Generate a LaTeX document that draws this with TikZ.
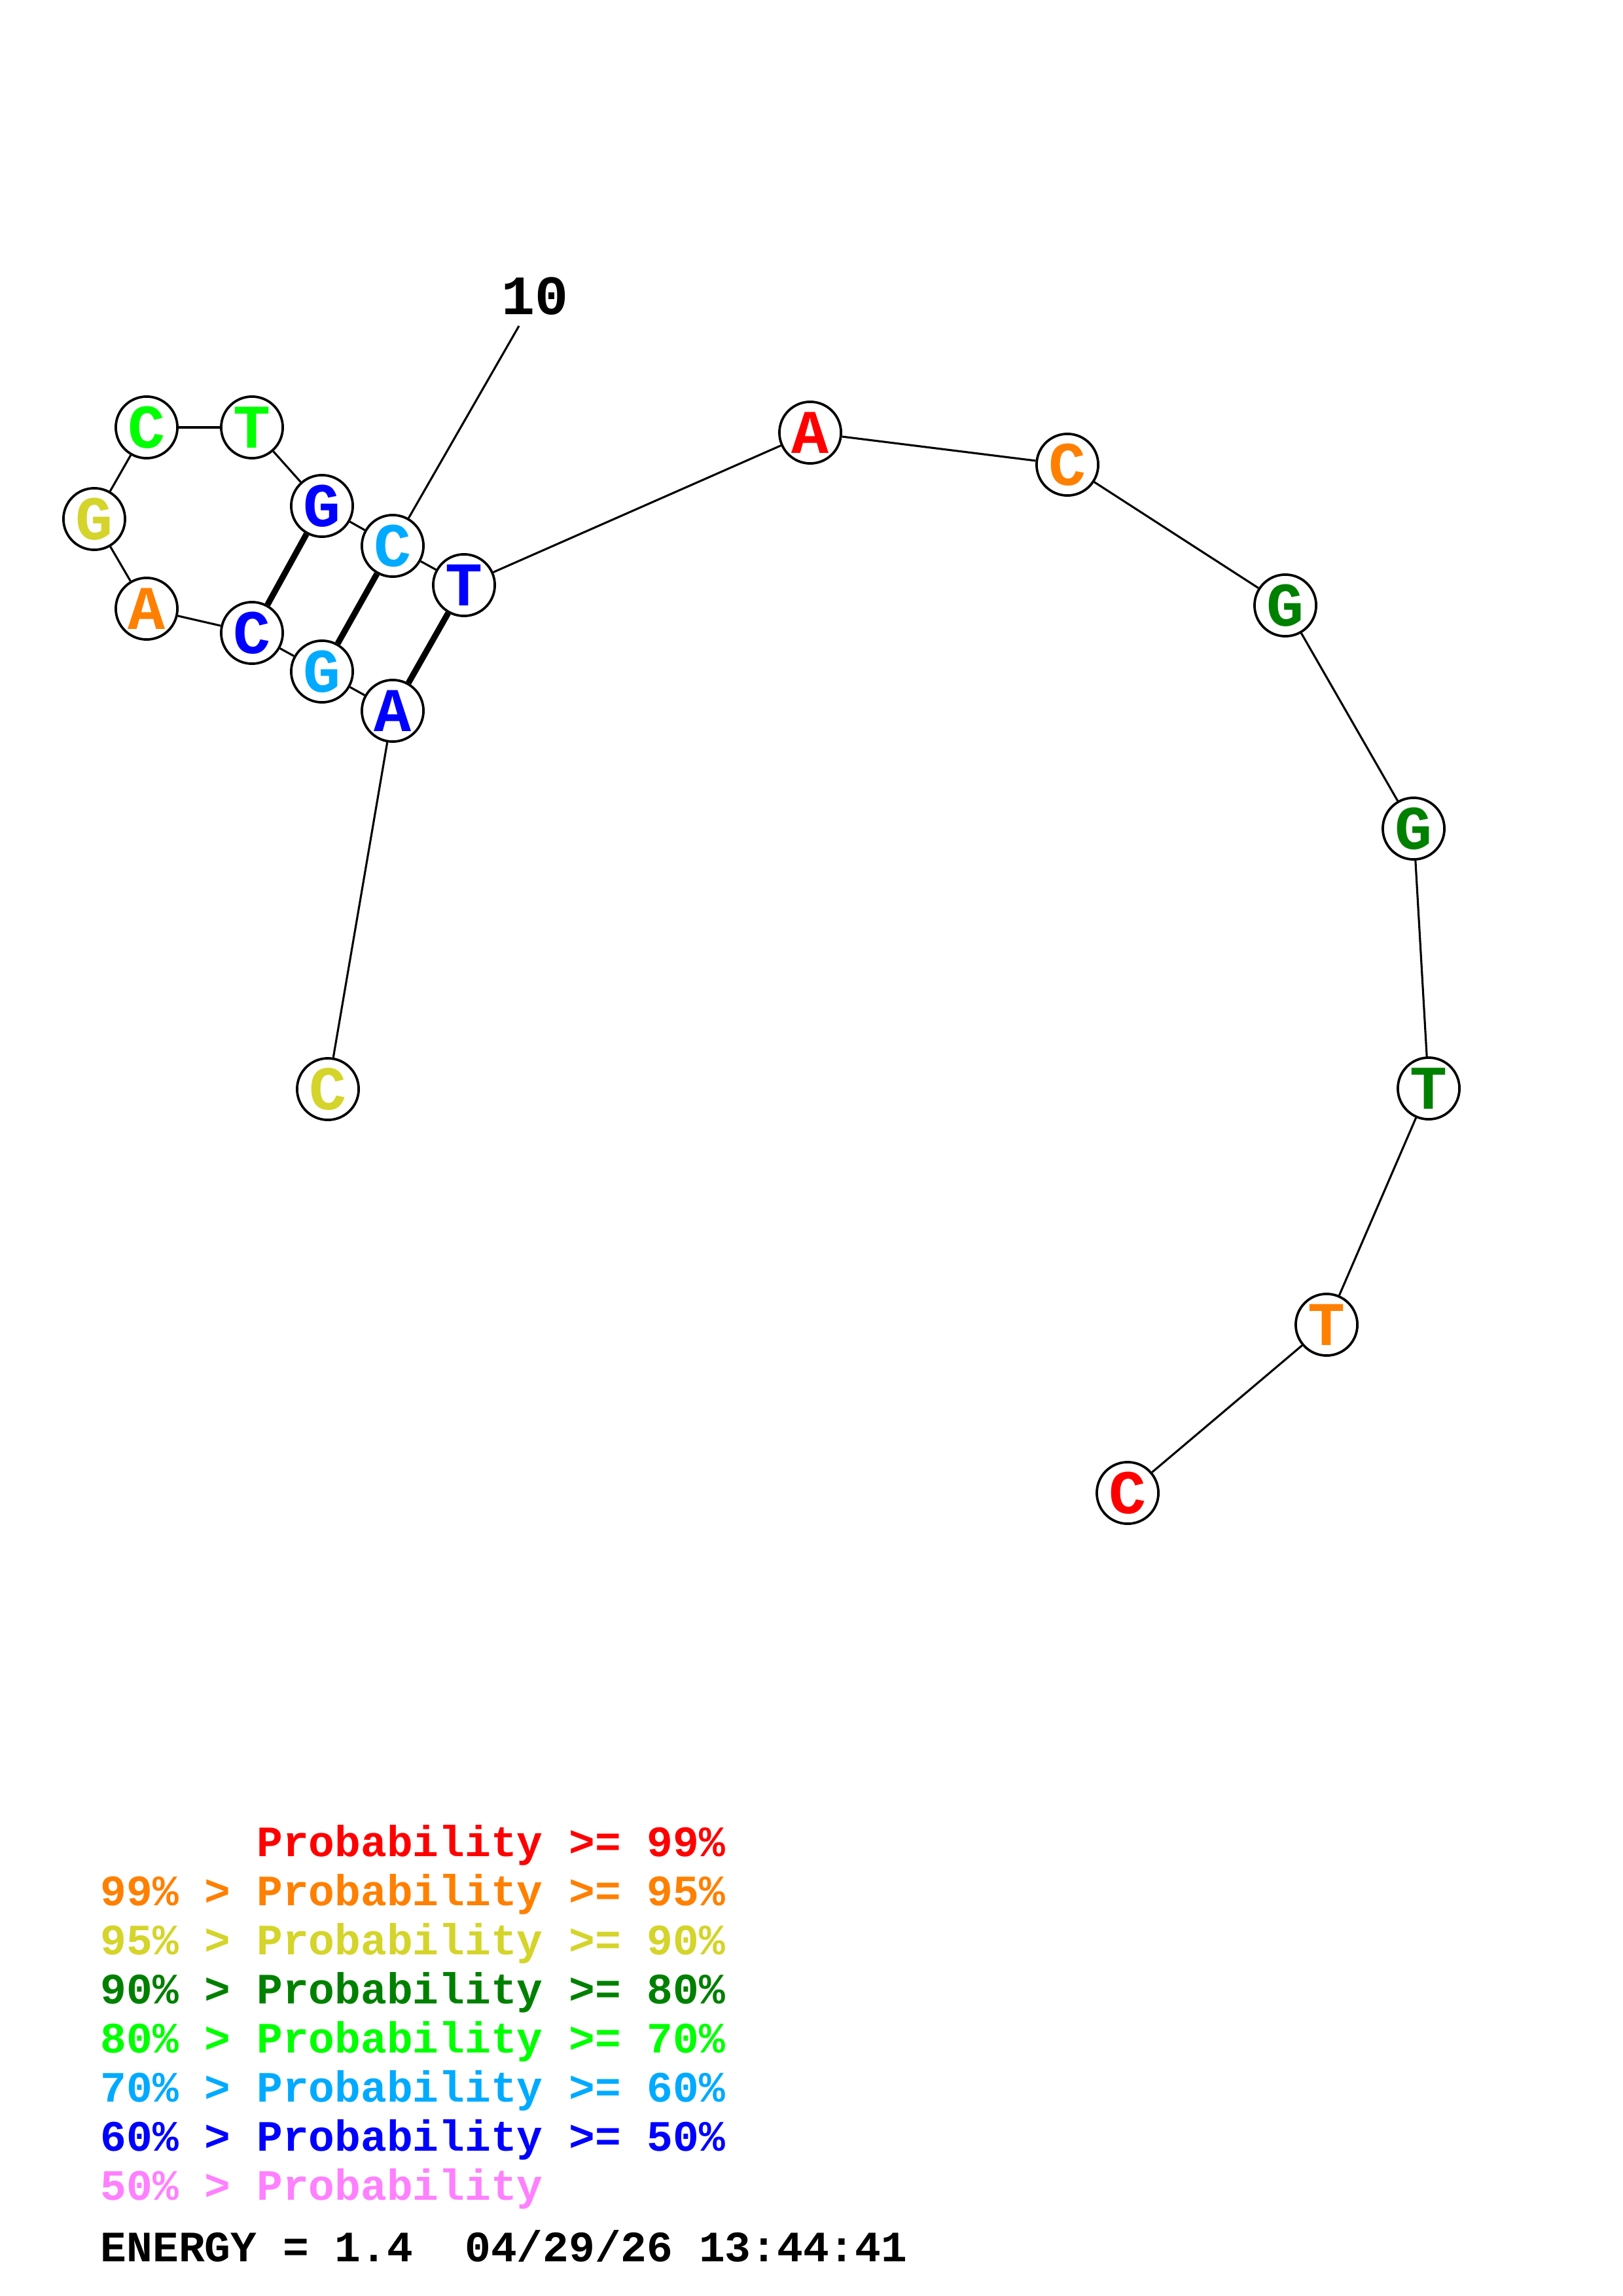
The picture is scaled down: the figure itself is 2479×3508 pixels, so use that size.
\documentclass[tikz,border=0pt]{standalone}
\usepackage{fontspec}
\setmonofont{Liberation Mono}

\definecolor{pr99}{RGB}{255,0,0}
\definecolor{pr95}{RGB}{255,128,0}
\definecolor{pr90}{RGB}{212,212,42}
\definecolor{pr80}{RGB}{0,128,0}
\definecolor{pr70}{RGB}{0,255,0}
\definecolor{pr60}{RGB}{0,170,255}
\definecolor{pr50}{RGB}{0,0,255}
\definecolor{prlow}{RGB}{255,128,255}

\begin{document}
\begin{tikzpicture}[
  x=0.24pt, y=-0.24pt,
  base/.style={circle, draw, line width=0.9pt, fill=white, minimum size=22.6pt,
               inner sep=0pt, font=\ttfamily\bfseries\fontsize{22.8pt}{24pt}\selectfont},
  bb/.style={line width=0.75pt},
  bp/.style={line width=2.2pt},
  leg/.style={anchor=base west, inner sep=0pt,
              font=\ttfamily\bfseries\fontsize{15.9pt}{17pt}\selectfont}
]
\useasboundingbox (0,0) rectangle (2479,3508);

% ---------- bases ----------
\node[base, text=pr90] (n1)  at (501,1664)  {C};
\node[base, text=pr50] (n2)  at (600,1086)  {A};
\node[base, text=pr60] (n3)  at (492,1026)  {G};
\node[base, text=pr50] (n4)  at (385,967)   {C};
\node[base, text=pr95] (n5)  at (224,930)   {A};
\node[base, text=pr90] (n6)  at (144,793)   {G};
\node[base, text=pr70] (n7)  at (224,653)   {C};
\node[base, text=pr70] (n8)  at (385,653)   {T};
\node[base, text=pr50] (n9)  at (492,773)   {G};
\node[base, text=pr60] (n10) at (600,834)   {C};
\node[base, text=pr50] (n11) at (709,894)   {T};
\node[base, text=pr99] (n12) at (1238,661)  {A};
\node[base, text=pr95] (n13) at (1631,710)  {C};
\node[base, text=pr80] (n14) at (1964,925)  {G};
\node[base, text=pr80] (n15) at (2160,1266) {G};
\node[base, text=pr80] (n16) at (2183,1663) {T};
\node[base, text=pr95] (n17) at (2027,2024) {T};
\node[base, text=pr99] (n18) at (1723,2281) {C};

% ---------- backbone ----------
\foreach \a/\b in {1/2,2/3,3/4,4/5,5/6,6/7,7/8,8/9,9/10,10/11,11/12,12/13,13/14,14/15,15/16,16/17,17/18}
  \draw[bb] (n\a) -- (n\b);

% ---------- base pairs ----------
\draw[bp] (n2) -- (n11);
\draw[bp] (n3) -- (n10);
\draw[bp] (n4) -- (n9);

% ---------- position mark ----------
\coordinate (tick10) at (793,498);
\node[font=\ttfamily\bfseries\fontsize{20.4pt}{22pt}\selectfont] (lab10) at (817,452) {10};
\draw[bb] (n10) -- (tick10);

% ---------- legend ----------
\node[leg, text=pr99]  (l99) at (153,2836) {\phantom{99\% > }Probability >= 99\%};
\node[leg, text=pr95]  (l95) at (153,2911) {99\% > Probability >= 95\%};
\node[leg, text=pr90]  (l90) at (153,2986) {95\% > Probability >= 90\%};
\node[leg, text=pr80]  (l80) at (153,3061) {90\% > Probability >= 80\%};
\node[leg, text=pr70]  (l70) at (153,3136) {80\% > Probability >= 70\%};
\node[leg, text=pr60]  (l60) at (153,3211) {70\% > Probability >= 60\%};
\node[leg, text=pr50]  (l50) at (153,3286) {60\% > Probability >= 50\%};
\node[leg, text=prlow] (llo) at (153,3361) {50\% > Probability};
\node[leg] (energy) at (153,3455) {ENERGY = 1.4\ \ 04/29/26 13:44:41};

\end{tikzpicture}
\end{document}
